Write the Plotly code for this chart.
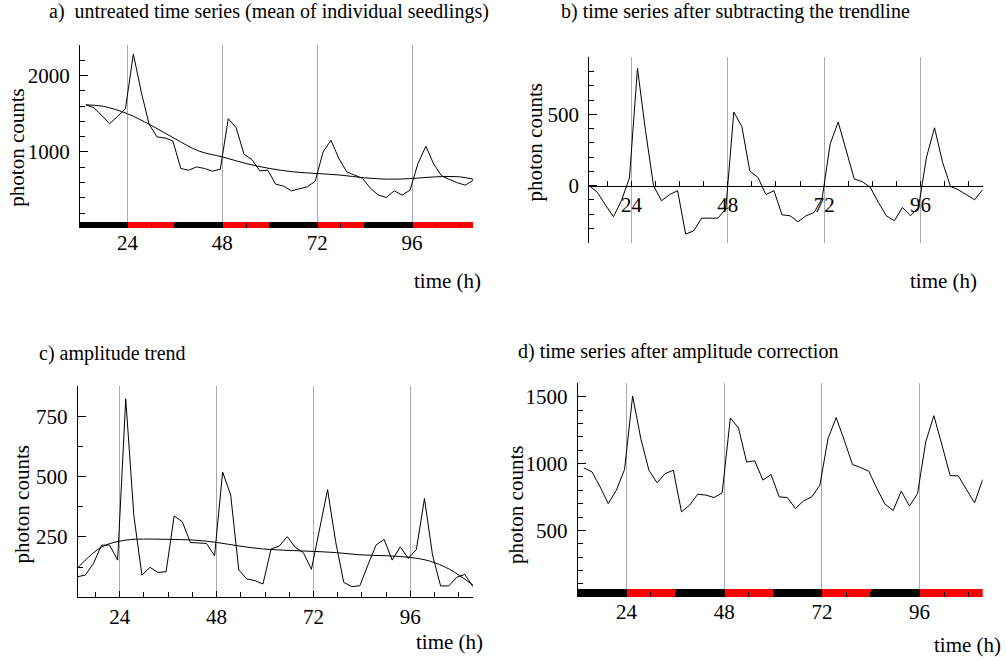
import plotly.graph_objects as go

W, H = 1006, 661

# ---------------- data ----------------
time_h = [13.5, 15.5, 17.5, 19.5, 21.5, 23.5, 25.5, 27.5, 29.5, 31.5,
          33.5, 35.5, 37.5, 39.5, 41.5, 43.5, 45.5, 47.5, 49.5, 51.5,
          53.5, 55.5, 57.5, 59.5, 61.5, 63.5, 65.5, 67.5, 69.5, 71.5,
          73.5, 75.5, 77.5, 79.5, 81.5, 83.5, 85.5, 87.5, 89.5, 91.5,
          93.5, 95.5, 97.5, 99.5, 101.5, 103.5, 105.5, 107.5, 109.5, 111.5]

raw_counts = [1617, 1578, 1478, 1370, 1465, 1565, 2283, 1783, 1361, 1196,
              1183, 1143, 783, 761, 804, 783, 748, 774, 1435, 1317,
              970, 900, 752, 761, 578, 552, 491, 522, 543, 617,
              1000, 1152, 913, 739, 696, 652, 522, 435, 404, 491,
              435, 500, 848, 1074, 839, 687, 639, 596, 565, 630]

trend_a_t = [13.5, 18, 24, 30, 36, 42, 48, 54, 60, 66, 72, 78, 84, 90, 96, 102, 108, 111.5]
trend_a = [1617, 1596, 1500, 1348, 1174, 1013, 935, 848, 783, 739, 717, 696, 661, 643, 652, 674, 674, 643]

detrended = [0, -47, -134, -218, -106, 54, 822, 387, 0, -106,
             -63, -35, -340, -317, -228, -228, -228, -164, 516, 415,
             101, 59, -63, -35, -204, -211, -253, -211, -188, -90,
             293, 446, 246, 47, 28, -12, -117, -211, -246, -153,
             -211, -153, 200, 406, 164, -7, -30, -66, -99, -28]

amplitude = [85, 92, 140, 216, 216, 154, 822, 340, 92, 124,
             103, 106, 337, 313, 227, 226, 223, 172, 519, 423,
             113, 76, 69, 55, 200, 212, 251, 207, 185, 116,
             288, 446, 230, 62, 44, 48, 134, 216, 240, 154,
             209, 161, 198, 409, 175, 47, 47, 83, 95, 44]

trend_c_t = [13.7, 19.6, 25.6, 29.9, 35.7, 42.3, 48.1, 53.8, 59.6, 66.2,
             72, 77.7, 83.5, 90.1, 96, 100.8, 105.7, 111.5]
trend_c = [124, 209, 237, 241, 240, 237, 227, 212, 200, 194,
           190, 185, 176, 172, 165, 150, 116, 51]

corrected = [968, 938, 826, 701, 801, 955, 1505, 1187, 950, 856,
             925, 950, 639, 689, 771, 764, 746, 781, 1341, 1266,
             1012, 1020, 876, 918, 751, 746, 664, 721, 751, 838,
             1187, 1343, 1174, 993, 970, 943, 813, 697, 649, 794,
             682, 776, 1162, 1358, 1137, 910, 908, 806, 706, 881]

# light regime bar: dark / light phases (hours)
phase_start = [12, 24, 36, 48, 60, 72, 84, 96]
phase_end = [24, 36, 48, 60, 72, 84, 96, 111.5]
phase_color = ["black", "red", "black", "red", "black", "red", "black", "red"]

day_ticks = [24, 48, 72, 96]

# ---------------- figure ----------------
FONT = "Liberation Serif, Times New Roman, serif"
FS = 21
GRID = "#aaaaaa"

def fx(px):
    return px / W

def fy(py):
    return 1 - py / H

dom = {
    "a": ([fx(80), fx(473.3)], [fy(228.3), fy(45)]),
    "b": ([fx(589.3), fx(982.7)], [fy(242.7), fy(57.3)]),
    "c": ([fx(77.7), fx(473.3)], [fy(597.3), fy(386)]),
    "d": ([fx(577.7), fx(982.7)], [fy(597.3), fy(383.3)]),
}
ya_range = [0, 2400]
yd_range = [0, 1600]
BAR_FRAC = 0.037

fig = go.Figure()
line = dict(color="black", width=1)

# light/dark bars at the bottom of panels a and d
for xa, ya, rng in (("x", "y", ya_range), ("x4", "y4", yd_range)):
    h = BAR_FRAC * (rng[1] - rng[0])
    fig.add_trace(go.Bar(
        x=[(s + e) / 2 for s, e in zip(phase_start, phase_end)],
        width=[e - s for s, e in zip(phase_start, phase_end)],
        y=[h] * len(phase_start), base=rng[0],
        marker=dict(color=phase_color, line=dict(width=0)),
        xaxis=xa, yaxis=ya, hoverinfo="skip"))

fig.add_trace(go.Scatter(x=time_h, y=raw_counts, mode="lines", line=line, xaxis="x", yaxis="y"))
fig.add_trace(go.Scatter(x=trend_a_t, y=trend_a, mode="lines", line=dict(color="black", width=1, shape="spline"), xaxis="x", yaxis="y"))
fig.add_trace(go.Scatter(x=time_h, y=detrended, mode="lines", line=line, xaxis="x2", yaxis="y2"))
fig.add_trace(go.Scatter(x=time_h, y=amplitude, mode="lines", line=line, xaxis="x3", yaxis="y3"))
fig.add_trace(go.Scatter(x=trend_c_t, y=trend_c, mode="lines", line=dict(color="black", width=1, shape="spline"), xaxis="x3", yaxis="y3"))
fig.add_trace(go.Scatter(x=time_h, y=corrected, mode="lines", line=line, xaxis="x4", yaxis="y4"))


def xaxis(domain, anchor, rng, showline, **kw):
    d = dict(domain=domain, anchor=anchor, range=rng, tickvals=day_ticks,
             ticks="inside", ticklen=6, tickcolor="black", showgrid=True,
             gridcolor=GRID, gridwidth=1, zeroline=False, showline=showline,
             linecolor="black", linewidth=1,
             tickfont=dict(family=FONT, size=FS, color="black"),
             minor=dict(tickmode="linear", tick0=0, dtick=6, ticks="inside",
                        ticklen=5, tickcolor="black", showgrid=False))
    d.update(kw)
    return d


def yaxis(domain, anchor, rng, tickvals, minor_dtick, **kw):
    d = dict(domain=domain, anchor=anchor, range=rng, tickvals=tickvals,
             ticks="inside", ticklen=8, tickcolor="black", showgrid=False,
             zeroline=False, showline=True, linecolor="black", linewidth=1,
             ticklabelstandoff=5,
             tickfont=dict(family=FONT, size=FS, color="black"),
             minor=dict(tickmode="linear", tick0=0, dtick=minor_dtick,
                        ticks="inside", ticklen=5, tickcolor="black", showgrid=False))
    d.update(kw)
    return d

yb_range = [-400, 900]
b_zero_pos = dom["b"][1][0] + (0 - yb_range[0]) / (yb_range[1] - yb_range[0]) * (dom["b"][1][1] - dom["b"][1][0])

fig.update_layout(
    width=W, height=H,
    margin=dict(l=0, r=0, t=0, b=0),
    paper_bgcolor="white", plot_bgcolor="white",
    showlegend=False, barmode="overlay", bargap=0,
    font=dict(family=FONT, size=FS, color="black"),
    xaxis=xaxis(dom["a"][0], "y", [12, 111.5], False),
    yaxis=yaxis(dom["a"][1], "x", ya_range, [1000, 2000], 200),
    xaxis2=xaxis(dom["b"][0], "free", [13.5, 111.5], True, position=b_zero_pos, ticklen=4),
    yaxis2=yaxis(dom["b"][1], "x2", yb_range, [0, 500], 100),
    xaxis3=xaxis(dom["c"][0], "y3", [13.6, 111.6], True),
    yaxis3=yaxis(dom["c"][1], "x3", [0, 875], [250, 500, 750], 125),
    xaxis4=xaxis(dom["d"][0], "y4", [12, 111.5], False),
    yaxis4=yaxis(dom["d"][1], "x4", yd_range, [500, 1000, 1500], 100),
)

# text
ann = []
def text(t, px, py, xanchor="left", angle=0, size=FS):
    ann.append(dict(text=t, x=fx(px), y=fy(py), xref="paper", yref="paper",
                    xanchor=xanchor, yanchor="middle", showarrow=False,
                    textangle=angle, font=dict(family=FONT, size=size, color="black")))

text("a)\u00a0 untreated time series (mean of individual seedlings)", 47, 12, size=20)
text("b) time series after subtracting the trendline", 559, 12, size=20)
text("c) amplitude trend", 37, 353, size=20)
text("d) time series after amplitude correction", 516, 351, size=20)

for px, py in ((16.7, 148), (534, 142.5), (21.5, 505), (516, 505)):
    ann.append(dict(text="photon counts", x=fx(px), y=fy(py), xref="paper", yref="paper",
                    xanchor="center", yanchor="middle", showarrow=False, textangle=-90,
                    font=dict(family=FONT, size=FS, color="black")))

for px, py in ((483, 281), (979, 281), (485, 642), (1003, 645)):
    text("time (h)", px, py, xanchor="right")

fig.update_layout(annotations=ann)

fig.write_html("out.html", config={"displayModeBar": False},
               post_script="document.body.style.margin='0px';")
